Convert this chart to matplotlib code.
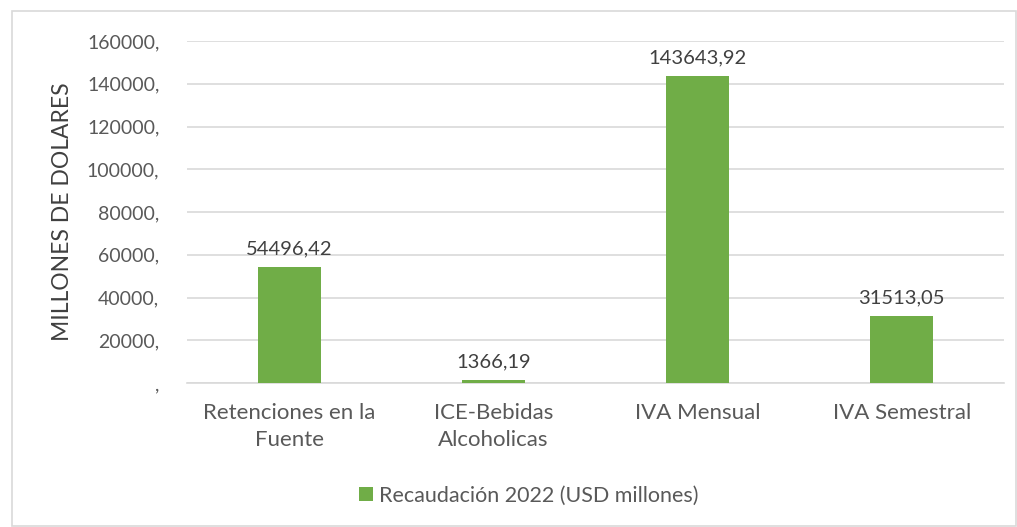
import matplotlib.pyplot as plt
from matplotlib.patches import Rectangle

categorias = ['Retenciones en la\nFuente', 'ICE-Bebidas\nAlcoholicas', 'IVA Mensual', 'IVA Semestral']
valores = [54496.42, 1366.19, 143643.92, 31513.05]
etiquetas = ['54496,42', '1366,19', '143643,92', '31513,05']
ticks_y = [0, 20000, 40000, 60000, 80000, 100000, 120000, 140000, 160000]
ticks_y_txt = [',', '20000,', '40000,', '60000,', '80000,', '100000,', '120000,', '140000,', '160000,']

plt.rcParams['font.family'] = ['Lato', 'DejaVu Sans']
gris = '#595959'

fig = plt.figure(figsize=(10.17, 5.27), dpi=100)
ax = fig.add_axes([0.184, 0.273, 0.803, 0.649])

x = range(len(categorias))
bars = ax.bar(x, valores, width=0.31, color='#70AD47', label='Recaudación 2022 (USD millones)', zorder=3)

for bar, txt in zip(bars, etiquetas):
    ax.annotate(txt, (bar.get_x() + bar.get_width() / 2, bar.get_height()),
                xytext=(0, 7), textcoords='offset points', ha='center', va='bottom',
                fontsize=14.5, color='#404040')

ax.set_xlim(-0.5, 3.5)
ax.set_ylim(0, 160000)
ax.set_yticks(ticks_y)
ax.set_yticklabels(ticks_y_txt)
ax.set_xticks(list(x))
ax.set_xticklabels(categorias, linespacing=1.45)
ax.tick_params(axis='y', length=0, labelsize=14, colors=gris, pad=20)
ax.tick_params(axis='x', length=0, labelsize=16, colors=gris, pad=14)
ax.grid(axis='y', color='#D9D9D9', linewidth=1.2, zorder=0)
for s in ['top', 'right', 'left']:
    ax.spines[s].set_visible(False)
ax.spines['bottom'].set_color('#D9D9D9')
ax.spines['bottom'].set_linewidth(1.2)

ax.set_ylabel('MILLONES DE DOLARES', fontsize=16.5, color='#404040', labelpad=10)

fig.legend(loc='center', bbox_to_anchor=(0.52, 0.06), frameon=False, fontsize=15.5,
           labelcolor=gris, handlelength=0.65, handleheight=0.65, handletextpad=0.3)

fig.add_artist(Rectangle((12 / 1017, 0.002), 1 - 13 / 1017, 1 - 11 / 527 - 0.002,
                         transform=fig.transFigure, fill=False, edgecolor='#D9D9D9', linewidth=1.2))

fig.savefig('out.png', dpi=100)
